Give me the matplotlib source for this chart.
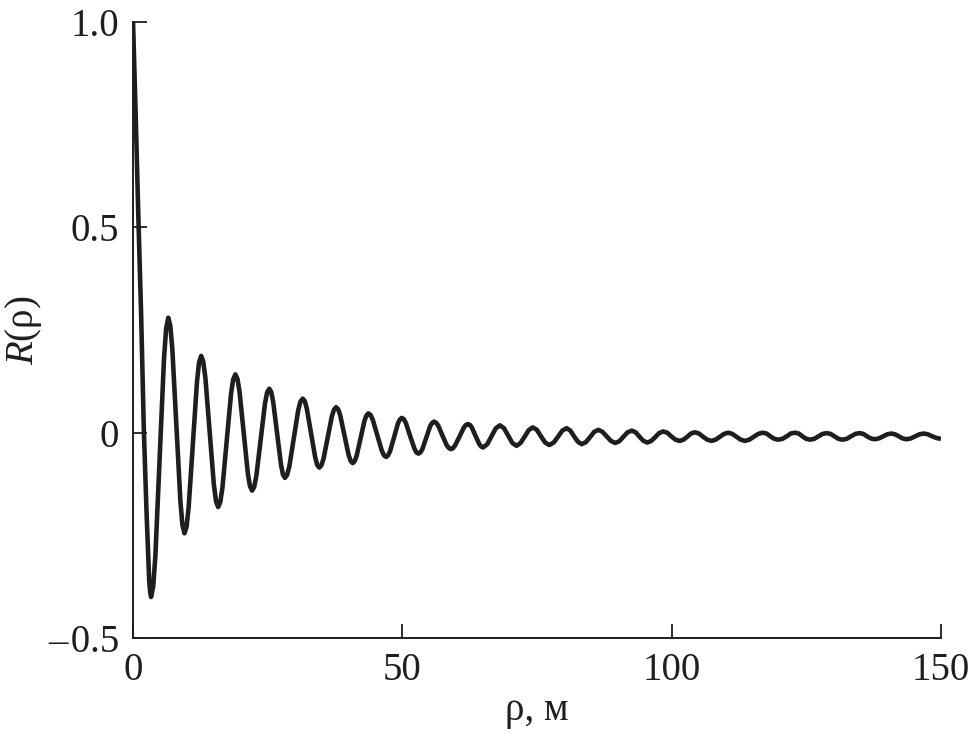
import matplotlib
matplotlib.use("Agg")
import matplotlib.pyplot as plt
from matplotlib import font_manager as fm

# distance rho, m
rho = [
    0.0, 0.5, 1.0, 1.5, 2.0, 2.5, 3.0, 3.2, 3.35,
    3.75, 4.15, 4.95, 5.75, 6.15, 6.55,
    6.925, 7.3, 8.05, 8.8, 9.175, 9.55,
    9.94, 10.325, 11.1, 11.875, 12.26, 12.65,
    13.04, 13.44, 14.225, 15.01, 15.41, 15.8,
    16.2, 16.6, 17.4, 18.2, 18.6, 19.0,
    19.39, 19.775, 20.55, 21.325, 21.71, 22.1,
    22.5, 22.9, 23.7, 24.5, 24.9, 25.3,
    25.66, 26.025, 26.75, 27.475, 27.84, 28.2,
    28.61, 29.025, 29.85, 30.675, 31.09, 31.5,
    31.89, 32.275, 33.05, 33.825, 34.21, 34.6,
    34.99, 35.375, 36.15, 36.925, 37.31, 37.7,
    38.09, 38.475, 39.25, 40.025, 40.41, 40.8,
    41.16, 41.525, 42.25, 42.975, 43.34, 43.7,
    44.11, 44.525, 45.35, 46.175, 46.59, 47.0,
    47.36, 47.725, 48.45, 49.175, 49.54, 49.9,
    50.29, 50.675, 51.45, 52.225, 52.61, 53.0,
    53.36, 53.725, 54.45, 55.175, 55.54, 55.9,
    56.29, 56.675, 57.45, 58.225, 58.61, 59.0,
    59.4, 59.8, 60.6, 61.4, 61.8, 62.2,
    62.55, 62.9, 63.6, 64.3, 64.65, 65.0,
    65.775, 66.55, 67.325, 68.1,
    68.875, 69.65, 70.425, 71.2,
    71.95, 72.7, 73.45, 74.2,
    74.975, 75.75, 76.525, 77.3,
    78.1, 78.9, 79.7, 80.5,
    81.2, 81.9, 82.6, 83.3,
    84.075, 84.85, 85.625, 86.4,
    87.175, 87.95, 88.725, 89.5,
    90.275, 91.05, 91.825, 92.6,
    93.325, 94.05, 94.775, 95.5,
    96.225, 96.95, 97.675, 98.4,
    99.175, 99.95, 100.725, 101.5,
    102.2, 102.9, 103.6, 104.3,
    105.075, 105.85, 106.625, 107.4,
    108.175, 108.95, 109.725, 110.5,
    111.275, 112.05, 112.825, 113.6,
    114.425, 115.25, 116.075, 116.9,
    117.625, 118.35, 119.075, 119.8,
    120.575, 121.35, 122.125, 122.9,
    123.6, 124.3, 125.0, 125.7,
    126.475, 127.25, 128.025, 128.8,
    129.525, 130.25, 130.975, 131.7,
    132.5, 133.3, 134.1, 134.9,
    135.6, 136.3, 137.0, 137.7,
    138.475, 139.25, 140.025, 140.8,
    141.5, 142.2, 142.9, 143.6,
    144.4, 145.2, 146.0, 146.8,
    147.6, 148.4, 149.2, 150.0,
]

# correlation R(rho)
R = [
    1.0, 0.77, 0.52, 0.29, 0.01, -0.19, -0.36, -0.39, -0.40,
    -0.374, -0.300, -0.060, 0.180, 0.254, 0.280,
    0.260, 0.203, 0.018, -0.168, -0.225, -0.245,
    -0.229, -0.182, -0.029, 0.124, 0.171, 0.187,
    0.173, 0.133, 0.003, -0.127, -0.167, -0.181,
    -0.169, -0.134, -0.020, 0.095, 0.130, 0.142,
    0.131, 0.100, 0.000, -0.100, -0.130, -0.141,
    -0.132, -0.105, -0.017, 0.071, 0.098, 0.107,
    0.099, 0.075, -0.002, -0.078, -0.102, -0.110,
    -0.103, -0.082, -0.014, 0.055, 0.076, 0.083,
    0.077, 0.058, -0.001, -0.060, -0.079, -0.085,
    -0.079, -0.063, -0.012, 0.040, 0.056, 0.062,
    0.057, 0.042, -0.006, -0.054, -0.069, -0.074,
    -0.069, -0.056, -0.014, 0.029, 0.042, 0.047,
    0.043, 0.031, -0.006, -0.043, -0.055, -0.059,
    -0.055, -0.045, -0.012, 0.022, 0.032, 0.036,
    0.033, 0.023, -0.008, -0.038, -0.048, -0.051,
    -0.048, -0.040, -0.012, 0.016, 0.024, 0.027,
    0.024, 0.017, -0.007, -0.030, -0.037, -0.040,
    -0.038, -0.031, -0.010, 0.012, 0.019, 0.021,
    0.019, 0.013, -0.008, -0.028, -0.034, -0.036,
    -0.028, -0.009, 0.010, 0.018,
    0.011, -0.007, -0.025, -0.032,
    -0.025, -0.010, 0.006, 0.013,
    0.007, -0.009, -0.024, -0.030,
    -0.024, -0.010, 0.005, 0.011,
    0.005, -0.009, -0.022, -0.028,
    -0.023, -0.011, 0.002, 0.007,
    0.002, -0.009, -0.020, -0.025,
    -0.021, -0.010, 0.001, 0.005,
    0.001, -0.010, -0.020, -0.024,
    -0.020, -0.011, -0.001, 0.003,
    0.000, -0.009, -0.017, -0.020,
    -0.017, -0.010, -0.002, 0.001,
    -0.002, -0.010, -0.017, -0.020,
    -0.017, -0.010, -0.003, 0.000,
    -0.003, -0.010, -0.017, -0.020,
    -0.017, -0.010, -0.003, 0.000,
    -0.002, -0.009, -0.015, -0.017,
    -0.015, -0.009, -0.002, 0.000,
    -0.002, -0.009, -0.015, -0.017,
    -0.015, -0.009, -0.003, -0.001,
    -0.003, -0.009, -0.015, -0.017,
    -0.015, -0.009, -0.003, -0.001,
    -0.003, -0.009, -0.014, -0.016,
    -0.014, -0.009, -0.004, -0.002,
    -0.004, -0.009, -0.014, -0.016,
    -0.014, -0.009, -0.004, -0.002,
    -0.004, -0.009, -0.013, -0.015,
]

x_ticks = [0, 50, 100, 150]
x_tick_labels = ["0", "50", "100", "150"]
y_ticks = [-0.5, 0, 0.5, 1.0]
y_tick_labels = ["\u2013\u200a0.5", "0", "0.5", "1.0"]

# register Liberation Serif (Times-metric) files explicitly
for f in fm.findSystemFonts():
    if "liberationserif" in f.lower().replace("-", "").replace(" ", ""):
        try:
            fm.fontManager.addfont(f)
        except Exception:
            pass
serif_name = "Liberation Serif"

plt.rcParams["font.family"] = [serif_name, "DejaVu Serif"]
plt.rcParams["mathtext.fontset"] = "custom"
plt.rcParams["mathtext.it"] = serif_name + ":italic"
plt.rcParams["mathtext.rm"] = serif_name

ink = "#1e1e1e"
fig = plt.figure(figsize=(9.71, 7.37), dpi=100)
ax = fig.add_axes([0.137, 0.1343, 0.832, 0.8358])

ax.plot(rho, R, color=ink, lw=3.3, solid_joinstyle="round", solid_capstyle="butt")

ax.set_xlim(0, 150)
ax.set_ylim(-0.5, 1.0)
ax.set_xticks(x_ticks)
ax.set_xticklabels(x_tick_labels)
ax.set_yticks(y_ticks)
ax.set_yticklabels(y_tick_labels)

for s in ["top", "right"]:
    ax.spines[s].set_visible(False)
for s in ["left", "bottom"]:
    ax.spines[s].set_linewidth(1.4)
    ax.spines[s].set_color(ink)

ax.tick_params(direction="in", length=10, width=1.3, labelsize=28, pad=10,
               colors=ink)

ax.set_xlabel("\u03c1, \u043c", fontsize=28, color=ink, labelpad=2)
ax.set_ylabel("$R$(\u03c1)", fontsize=28, color=ink, labelpad=3)

fig.savefig("out.png", dpi=100)
